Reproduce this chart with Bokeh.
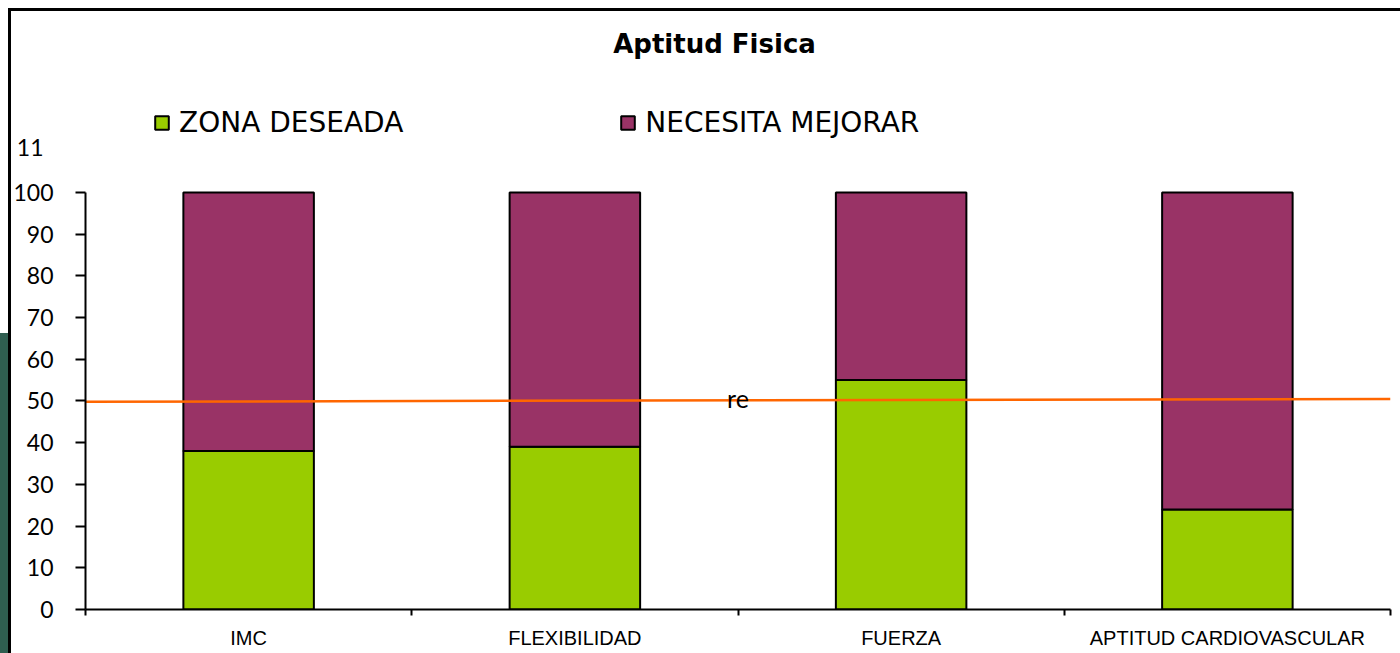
from bokeh.plotting import figure
from bokeh.models import ColumnDataSource, Range1d, FixedTicker, Label, Legend, LegendItem, LinearAxis
from bokeh.embed import file_html
from bokeh.resources import INLINE

# ---- data ----
categories = ["IMC", "FLEXIBILIDAD", "FUERZA", "APTITUD CARDIOVASCULAR"]
zona_deseada = [38, 39, 55, 24]
necesita_mejorar = [62, 61, 45, 76]
series_names = ["ZONA DESEADA", "NECESITA MEJORAR"]
y_ticks = [0, 10, 20, 30, 40, 50, 60, 70, 80, 90, 100]
ref_line = [49.8, 50.5]   # reference line, left end / right end
title_text = "Aptitud Fisica"
stray_label = "11"
stray_label_at = 110.8
line_label = "re"

GREEN = "#99CC00"
PURPLE = "#993366"
ORANGE = "#FF6600"
GOTHIC = "Lato"
WIDE = "DejaVu Sans"

n = len(categories)
xs = [i + 0.5 for i in range(n)]
src = ColumnDataSource(dict(x=xs, zona=zona_deseada, necesita=necesita_mejorar, cat=categories))

p = figure(width=1400, height=653, output_backend="svg", toolbar_location=None,
           x_range=Range1d(0, n), y_range=Range1d(0, 144.1),
           min_border_left=85, min_border_right=10, min_border_top=8, min_border_bottom=44)
p.background_fill_alpha = 0
p.border_fill_alpha = 0
p.outline_line_color = None
p.xgrid.visible = False
p.ygrid.visible = False
p.styles = {
    "background-image": "linear-gradient(#000,#000), linear-gradient(#000,#000), linear-gradient(#2f5e50,#2f5e50)",
    "background-size": "1392px 3px, 3px 645px, 8px 320px",
    "background-position": "8px 8px, 8px 8px, 0px 333px",
    "background-repeat": "no-repeat",
}

rs = p.vbar_stack(["zona", "necesita"], x="x", width=0.4, color=[GREEN, PURPLE],
                  line_color="black", line_width=2, source=src)

p.line(x=[0, n], y=ref_line, color=ORANGE, line_width=2.5)

# y axis
ya = p.yaxis[0]
ya.ticker = FixedTicker(ticks=y_ticks)
ya.bounds = (0, 100)
ya.axis_line_color = "black"
ya.axis_line_width = 2
ya.major_tick_out = 10
ya.major_tick_in = 0
ya.major_tick_line_width = 2
ya.minor_tick_line_color = None
ya.major_label_standoff = 22
ya.major_label_text_font = GOTHIC
ya.major_label_text_font_size = "23px"
ya.major_label_text_color = "black"

# outer left axis carrying the stray "11" label
ya2 = LinearAxis(ticker=FixedTicker(ticks=[stray_label_at]),
                 major_label_overrides={stray_label_at: stray_label})
ya2.axis_line_color = None
ya2.major_tick_line_color = None
ya2.minor_tick_line_color = None
ya2.major_tick_out = 0
ya2.major_tick_in = 0
ya2.major_label_standoff = -33
ya2.major_label_text_font = GOTHIC
ya2.major_label_text_font_size = "23px"
ya2.major_label_text_color = "black"
p.add_layout(ya2, "left")

# x axis
xa = p.xaxis[0]
xa.ticker = FixedTicker(ticks=xs, minor_ticks=list(range(n + 1)))
xa.major_label_overrides = {x: c for x, c in zip(xs, categories)}
xa.axis_line_color = "black"
xa.axis_line_width = 2
xa.major_tick_out = 0
xa.major_tick_in = 0
xa.major_tick_line_color = None
xa.minor_tick_out = 6
xa.minor_tick_in = 0
xa.minor_tick_line_width = 2
xa.minor_tick_line_color = "black"
xa.major_label_standoff = 11
xa.major_label_text_font = "Liberation Sans"
xa.major_label_text_font_size = "20px"
xa.major_label_text_color = "black"

legend = Legend(items=[LegendItem(label=series_names[0], renderers=[rs[0]]),
                       LegendItem(label=series_names[1], renderers=[rs[1]])],
                orientation="horizontal", location=(68, 470), spacing=216,
                glyph_width=17, glyph_height=17, label_standoff=9,
                label_text_font=WIDE, label_text_font_size="28px", label_text_color="black",
                border_line_color=None, background_fill_alpha=0, padding=0, margin=0)
p.add_layout(legend)

p.add_layout(Label(x=n / 2 - 0.072, y=135.5, text=title_text, text_align="center",
                   text_baseline="middle", text_font=WIDE,
                   text_font_style="bold", text_font_size="26px", text_color="black"))
p.add_layout(Label(x=n / 2, y=50.8, text=line_label, text_align="center",
                   text_baseline="middle", text_font=GOTHIC,
                   text_font_size="25px", text_color="black"))

open("out.html", "w").write(file_html(p, INLINE))
